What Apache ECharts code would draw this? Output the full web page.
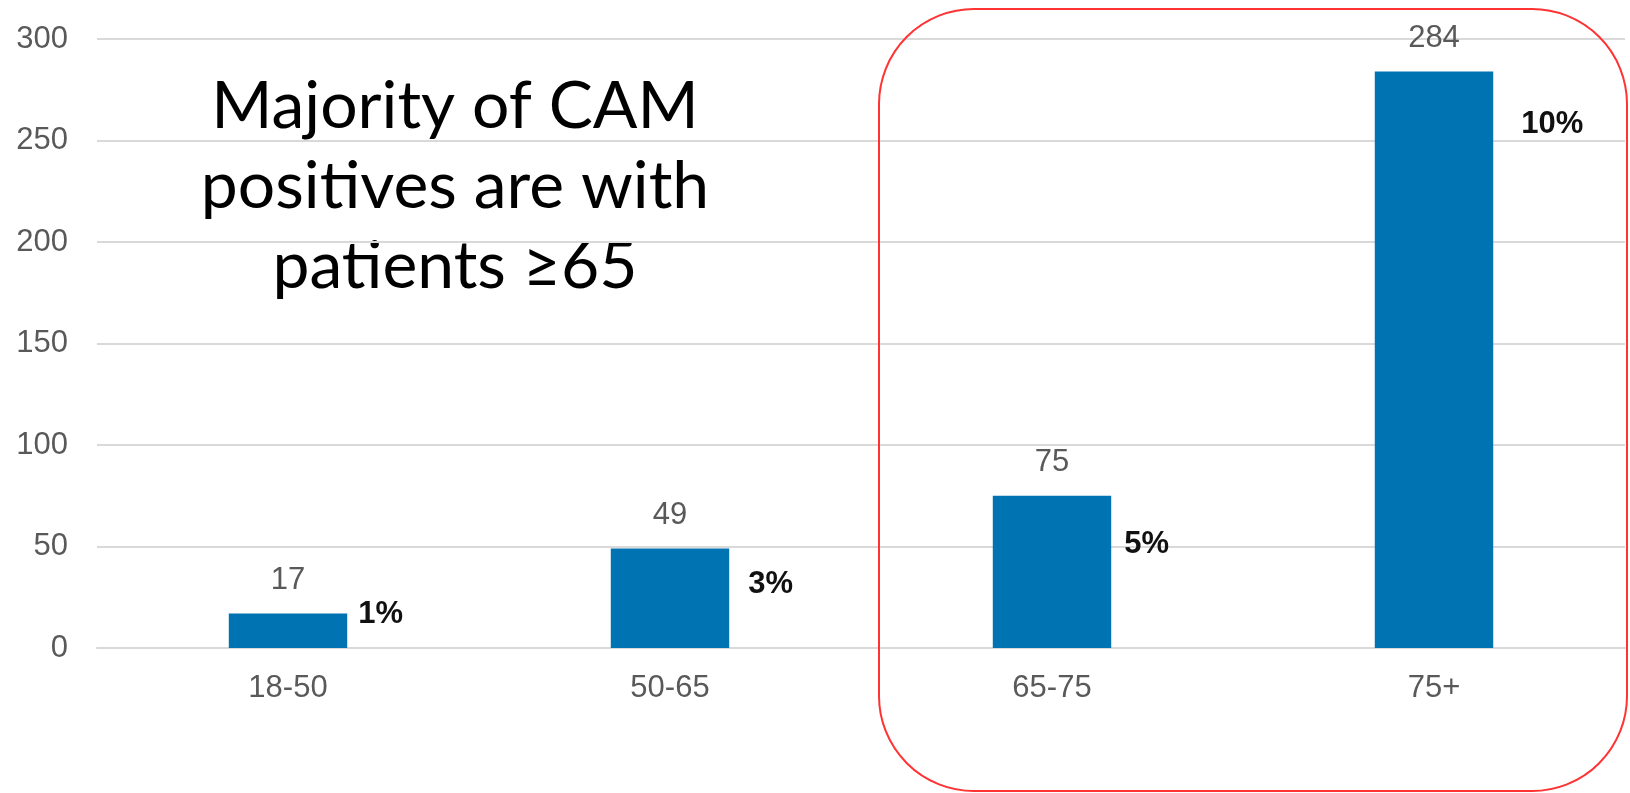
<!DOCTYPE html>
<html>
<head>
<meta charset="utf-8">
<script src="https://cdn.jsdelivr.net/npm/echarts@6/dist/echarts.min.js"></script>
<style>
html,body{margin:0;padding:0;background:#fff;}
#c{width:1630px;height:793px;}
</style>
</head>
<body>
<div id="c"></div>
<script>
const categories = ['18-50', '50-65', '65-75', '75+'];
const counts = [17, 49, 75, 284];
const percents = ['1%', '3%', '5%', '10%'];
const yTicks = [0, 50, 100, 150, 200, 250, 300];
const noteLines = ['Majority of CAM', 'positives are with', 'patients \u226565'];

// label offsets for percent annotations (dx, dy from bar top-right)
const pctOffsets = [[11, 1], [19, 36], [13, 49], [28, 53]];

const chart = echarts.init(document.getElementById('c'));
const option = {
  animation: false,
  grid: { left: 97, right: 5, top: 39, bottom: 145 },
  xAxis: {
    type: 'category',
    data: categories,
    axisTick: { show: false },
    axisLine: { lineStyle: { color: '#d9d9d9', width: 2 } },
    axisLabel: { color: '#595959', fontSize: 31, fontFamily: 'Liberation Sans, Arial', margin: 25 }
  },
  yAxis: {
    type: 'value',
    min: yTicks[0],
    max: yTicks[yTicks.length - 1],
    interval: yTicks[1] - yTicks[0],
    axisLine: { show: false },
    axisTick: { show: false },
    splitLine: { lineStyle: { color: '#d9d9d9', width: 2 } },
    axisLabel: { color: '#595959', fontSize: 31, fontFamily: 'Liberation Sans, Arial', margin: 29 }
  },
  series: [
    {
      type: 'bar',
      data: counts,
      barWidth: '31%',
      itemStyle: { color: '#0073b3' },
      label: {
        show: true,
        position: 'top',
        distance: 18,
        color: '#595959',
        fontSize: 31,
        fontFamily: 'Liberation Sans, Arial'
      },
      z: 2
    },
    {
      type: 'bar',
      barGap: '-100%',
      barWidth: '31%',
      data: counts.map((v, i) => ({
        value: v,
        label: {
          position: ['100%', 0],
          offset: pctOffsets[i]
        }
      })),
      itemStyle: { color: 'rgba(0,0,0,0)' },
      label: {
        show: true,
        formatter: p => percents[p.dataIndex],
        align: 'left',
        verticalAlign: 'middle',
        color: '#111',
        fontWeight: 'bold',
        fontSize: 31,
        fontFamily: 'Liberation Sans, Arial'
      },
      z: 3,
      silent: true
    }
  ],
  graphic: [
    {
      type: 'text',
      style: {
        text: noteLines.join('\n'),
        x: 455,
        y: 67,
        align: 'center',
        verticalAlign: 'top',
        font: '66px Lato, "Open Sans", sans-serif',
        lineHeight: 80,
        fill: '#000'
      }
    },
    {
      type: 'rect',
      shape: { x: 879, y: 9, width: 748, height: 782, r: 95 },
      style: { fill: 'none', stroke: '#ff3333', lineWidth: 2 },
      z: 10
    }
  ]
};
chart.setOption(option);
</script>
</body>
</html>
